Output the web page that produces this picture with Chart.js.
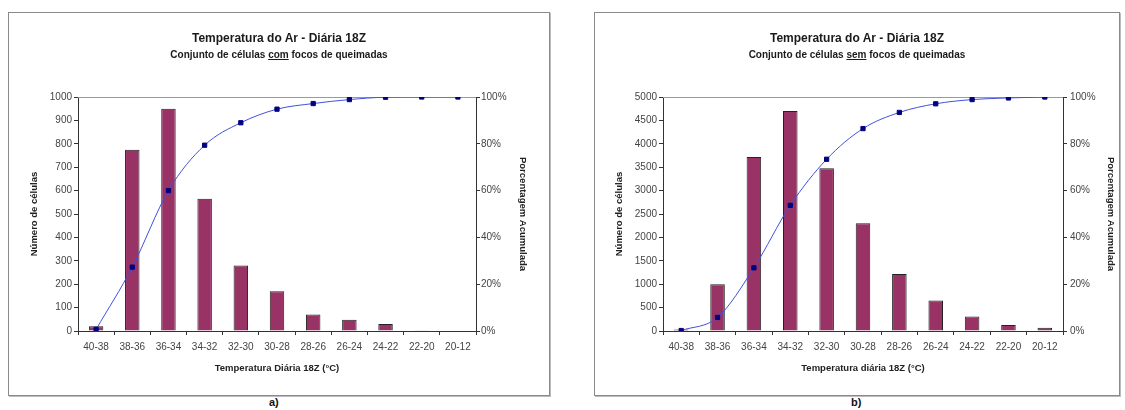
<!DOCTYPE html>
<html>
<head>
<meta charset="utf-8">
<script src="https://cdn.jsdelivr.net/npm/chart.js@4/dist/chart.umd.min.js"></script>
<style>
    body { margin: 0; background: #fff; font-family: "Liberation Sans", Arial, sans-serif; }
    .box { position: absolute; border: 1px solid #8a8a8a; box-shadow: 1px 1px 0 #bbb; }
    .box canvas { position: absolute; left: 0; top: 0; }
    .title { position: absolute; width: 100%; text-align: center; font-weight: bold; color: #1a1a1a; }
    .t1 { top: 18px; font-size: 12px; }
    .t2 { top: 36px; font-size: 10px; }
    .lbl { position: absolute; top: 396px; font-size: 11px; font-weight: bold; color: #111; }
</style>
</head>
<body>

<div class="box" id="boxA" style="left:8px; top:12px; width:540px; height:382px;">
    <canvas id="chartA" width="540" height="382"></canvas>
    <div class="title t1">Temperatura do Ar - Diária 18Z</div>
    <div class="title t2">Conjunto de células <u>com</u> focos de queimadas</div>
</div>
<div class="lbl" style="left:269px;">a)</div>

<div class="box" id="boxB" style="left:594px; top:12px; width:524px; height:382px;">
    <canvas id="chartB" width="524" height="382"></canvas>
    <div class="title t1">Temperatura do Ar - Diária 18Z</div>
    <div class="title t2">Conjunto de células <u>sem</u> focos de queimadas</div>
</div>
<div class="lbl" style="left:851px;">b)</div>

<script>
// Dados
const categories = ['40-38', '38-36', '36-34', '34-32', '32-30', '30-28', '28-26', '26-24', '24-22', '22-20', '20-12'];

// a) células com focos
const countsA = [20, 775, 950, 565, 280, 170, 70, 48, 30, 3, 0];
const cumPctA = [0.7, 27.3, 60, 79.4, 89, 94.8, 97.2, 98.9, 99.9, 100, 100];

// b) células sem focos
const countsB = [30, 1000, 3720, 4700, 3480, 2300, 1220, 650, 310, 130, 70];
const cumPctB = [0.2, 5.8, 27, 53.7, 73.4, 86.5, 93.4, 97.1, 98.9, 99.6, 100];

const barColor = '#993366';
const lineColor = '#4050dd';
const markerColor = '#000080';
const fontFamily = '"Liberation Sans", Arial, sans-serif';

// Linha superior da área do gráfico
const plotFrame = {
    id: 'plotFrame',
    beforeDatasetsDraw(chart) {
        const a = chart.chartArea;
        const ctx = chart.ctx;
        ctx.save();
        ctx.strokeStyle = '#9a9a9a';
        ctx.lineWidth = 1;
        ctx.beginPath();
        ctx.moveTo(a.left, a.top + 0.5);
        ctx.lineTo(a.right, a.top + 0.5);
        ctx.stroke();
        ctx.restore();
    }
};

function makeChart(id, counts, cumPct, opts) {
    const tickFont = { family: fontFamily, size: 10 };
    const titleFont = { family: fontFamily, size: 9.5, weight: 'bold' };

    return new Chart(document.getElementById(id), {
        data: {
            labels: categories,
            datasets: [
                {
                    type: 'line',
                    data: cumPct,
                    yAxisID: 'yPct',
                    borderColor: lineColor,
                    borderWidth: 1,
                    cubicInterpolationMode: 'monotone',
                    pointStyle: 'rect',
                    pointRadius: 3,
                    pointBackgroundColor: markerColor,
                    pointBorderColor: markerColor,
                    order: 0
                },
                {
                    type: 'bar',
                    data: counts,
                    yAxisID: 'y',
                    backgroundColor: barColor,
                    borderColor: '#222',
                    borderWidth: 1,
                    barPercentage: 0.4,
                    categoryPercentage: 1,
                    order: 1
                }
            ]
        },
        options: {
            responsive: false,
            animation: false,
            layout: { padding: { top: opts.padTop, left: 0, right: 0, bottom: 0 } },
            plugins: { legend: { display: false }, tooltip: { enabled: false } },
            scales: {
                x: {
                    grid: { drawOnChartArea: false, offset: true, tickLength: 4, color: '#333' },
                    border: { color: '#333' },
                    ticks: { font: tickFont, color: '#444', padding: 6, maxRotation: 0 },
                    title: { display: true, text: opts.xTitle, font: titleFont, color: '#222', padding: { top: 0, bottom: 21 } },
                    afterFit(s) { s.height = opts.xHeight; }
                },
                y: {
                    position: 'left',
                    min: 0,
                    max: opts.yMax,
                    grid: { drawOnChartArea: false, tickLength: 4, color: '#333' },
                    border: { color: '#333' },
                    ticks: { stepSize: opts.yStep, font: tickFont, color: '#444', padding: 2, callback: v => String(v) },
                    title: { display: true, text: 'Número de células', font: titleFont, color: '#222', padding: { top: opts.yTitlePad, bottom: 0 } },
                    afterFit(s) { s.width = opts.yWidth; }
                },
                yPct: {
                    position: 'right',
                    min: 0,
                    max: 100,
                    grid: { drawOnChartArea: false, tickLength: 4, color: '#333' },
                    border: { color: '#333' },
                    ticks: { stepSize: 20, font: tickFont, color: '#444', padding: opts.rPad, callback: v => v + '%' },
                    title: { display: true, text: 'Porcentagem Acumulada', font: titleFont, color: '#222', padding: { top: opts.rTitlePad, bottom: 0 } },
                    afterFit(s) { s.width = opts.rWidth; }
                }
            }
        },
        plugins: [plotFrame]
    });
}

makeChart('chartA', countsA, cumPctA, {
    xTitle: 'Temperatura Diária 18Z (°C)',
    yMax: 1000, yStep: 100,
    padTop: 84, xHeight: 64,
    yWidth: 69, yTitlePad: 20,
    rWidth: 73, rTitlePad: 21, rPad: 1
});

makeChart('chartB', countsB, cumPctB, {
    xTitle: 'Temperatura diária 18Z (°C)',
    yMax: 5000, yStep: 500,
    padTop: 84, xHeight: 64,
    yWidth: 68, yTitlePad: 19,
    rWidth: 56, rTitlePad: 3, rPad: 3
});
</script>
</body>
</html>
